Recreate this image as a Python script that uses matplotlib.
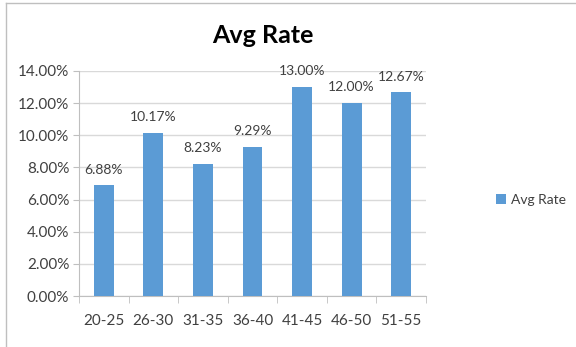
import matplotlib
matplotlib.use("Agg")
import matplotlib.pyplot as plt
from matplotlib.lines import Line2D

plt.rcParams["font.family"] = ["Lato", "DejaVu Sans"]

AGE_GROUPS = ["20-25", "26-30", "31-35", "36-40", "41-45", "46-50", "51-55"]
AVG_RATE = [6.88, 10.17, 8.23, 9.29, 13.00, 12.00, 12.67]
Y_TICKS = [0, 2, 4, 6, 8, 10, 12, 14]

BAR_COLOR = "#5B9BD5"
GRID_COLOR = "#D9D9D9"
AXIS_COLOR = "#BFBFBF"
TEXT_COLOR = "#404040"

fig = plt.figure(figsize=(5.76, 3.47), dpi=100)
fig.patch.set_facecolor("white")

# outer chart border (left and top edges visible)
fig.add_artist(Line2D([6 / 576, 6 / 576], [0, 1 - 3 / 347], transform=fig.transFigure,
                      color=AXIS_COLOR, lw=1))
fig.add_artist(Line2D([6 / 576, 1], [1 - 3 / 347, 1 - 3 / 347], transform=fig.transFigure,
                      color=AXIS_COLOR, lw=1))

ax = fig.add_axes([79 / 576, 1 - 296 / 347, 347 / 576, 225 / 347])
x = list(range(len(AGE_GROUPS)))
bars = ax.bar(x, AVG_RATE, width=0.4, color=BAR_COLOR, label="Avg Rate", zorder=3)

for xi, v in zip(x, AVG_RATE):
    ax.annotate(f"{v:.2f}%", xy=(xi, v), xytext=(0, 7), textcoords="offset points",
                ha="center", va="bottom", fontsize=10, color=TEXT_COLOR)

ax.set_xlim(-0.5, len(AGE_GROUPS) - 0.5)
ax.set_ylim(0, 14)
ax.set_yticks(Y_TICKS)
ax.set_yticklabels([f"{t:.2f}%" for t in Y_TICKS], fontsize=11, color=TEXT_COLOR)
ax.set_xticks(x)
ax.set_xticklabels(AGE_GROUPS, fontsize=11, color=TEXT_COLOR)
ax.tick_params(axis="x", length=0, pad=13)
ax.tick_params(axis="y", length=4, color=AXIS_COLOR, pad=3)

# category boundary ticks on the x axis
ax.set_xticks([i - 0.5 for i in range(len(AGE_GROUPS) + 1)], minor=True)
ax.tick_params(axis="x", which="minor", length=5, color=AXIS_COLOR, direction="out")

ax.yaxis.grid(True, color=GRID_COLOR, lw=1, zorder=0)
ax.set_axisbelow(True)
for side in ["top", "right"]:
    ax.spines[side].set_visible(False)
ax.spines["left"].set_color(AXIS_COLOR)
ax.spines["bottom"].set_color(AXIS_COLOR)

fig.text(263 / 576, 1 - 43 / 347, "Avg Rate", ha="center", va="baseline",
         fontsize=18, fontweight="bold", color="black")

fig.legend(handles=[bars], labels=["Avg Rate"], loc="center left",
           bbox_to_anchor=(489 / 576, 1 - 200 / 347), frameon=False,
           handlelength=0.7, handleheight=0.7, handletextpad=0.4, borderpad=0,
           fontsize=10, labelcolor=TEXT_COLOR)

fig.savefig("out.png", dpi=100)
